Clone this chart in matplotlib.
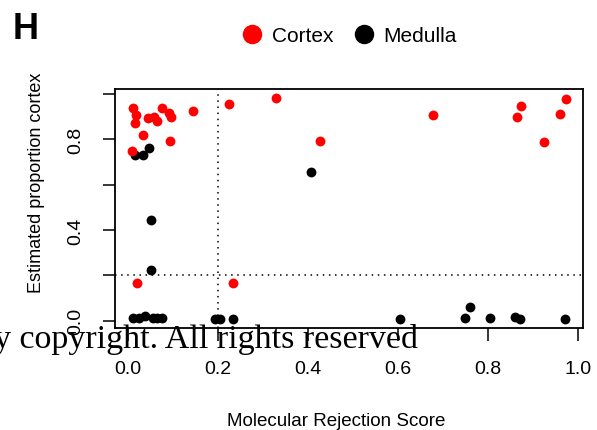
import matplotlib
matplotlib.use("Agg")
import matplotlib.pyplot as plt
from matplotlib.lines import Line2D

plt.rcParams["font.family"] = ["Liberation Sans", "DejaVu Sans"]

# values
cortex_x = [0.012, 0.018, 0.016, 0.034, 0.008, 0.045, 0.058, 0.065, 0.076, 0.092, 0.096, 0.093,
            0.145, 0.225, 0.329, 0.019, 0.234, 0.426, 0.677, 0.873, 0.864, 0.924, 0.960, 0.973]
cortex_y = [0.937, 0.907, 0.871, 0.819, 0.747, 0.893, 0.897, 0.880, 0.940, 0.915, 0.897, 0.791,
            0.925, 0.955, 0.982, 0.166, 0.166, 0.793, 0.907, 0.947, 0.897, 0.788, 0.912, 0.978]

medulla_x = [0.016, 0.033, 0.047, 0.050, 0.050, 0.012, 0.025, 0.038, 0.056, 0.065, 0.075,
             0.193, 0.204, 0.234, 0.406, 0.604, 0.749, 0.760, 0.804, 0.860, 0.871, 0.971]
medulla_y = [0.731, 0.731, 0.762, 0.444, 0.225, 0.012, 0.012, 0.019, 0.012, 0.012, 0.012,
             0.007, 0.007, 0.007, 0.655, 0.007, 0.011, 0.060, 0.011, 0.016, 0.007, 0.007]

x_ticks = [0.0, 0.2, 0.4, 0.6, 0.8, 1.0]
x_ticklabels = ["0.0", "0.2", "0.4", "0.6", "0.8", "1.0"]
y_ticks = [0.0, 0.2, 0.4, 0.6, 0.8, 1.0]
y_ticklabels = ["0.0", "", "0.4", "", "0.8", ""]
threshold = 0.2

fig = plt.figure(figsize=(5.97, 4.31), dpi=100)
ax = fig.add_axes([115 / 597, 1 - 329.3 / 431, 468 / 597, 239.3 / 431])

ax.scatter(medulla_x, medulla_y, s=50, color="black", linewidths=0, zorder=3)
ax.scatter(cortex_x, cortex_y, s=50, color="red", linewidths=0, zorder=4)

ax.axvline(threshold, color="black", lw=1.1, linestyle=(0, (1, 3)), zorder=2)
ax.axhline(threshold, color="black", lw=1.1, linestyle=(0, (1, 3)), zorder=2)

ax.set_xlim(-0.0289, 1.011)
ax.set_ylim(-0.0335, 1.022)
ax.set_xticks(x_ticks)
ax.set_xticklabels(x_ticklabels)
ax.set_yticks(y_ticks)
ax.set_yticklabels(y_ticklabels, rotation=90, va="center")

for sp in ax.spines.values():
    sp.set_linewidth(1.3)
ax.tick_params(axis="both", length=9, width=1.1, labelsize=14)
ax.tick_params(axis="x", pad=14)
ax.tick_params(axis="y", pad=13)

fig.text(336 / 597, 1 - 426 / 431, "Molecular Rejection Score", ha="center",
         va="baseline", fontsize=13.5)
fig.text(37 / 597, 1 - 183 / 431, "Estimated proportion cortex", rotation=90,
         ha="center", va="center", fontsize=13)

fig.text(13 / 597, 1 - 39 / 431, "H", fontsize=26, fontweight="bold", va="baseline")

handles = [Line2D([], [], marker="o", linestyle="", color="red", markersize=13),
           Line2D([], [], marker="o", linestyle="", color="black", markersize=13)]
fig.legend(handles, ["Cortex", "Medulla"], loc="center", ncol=2,
           bbox_to_anchor=(350 / 597, 1 - 37 / 431), frameon=False, fontsize=15,
           handlelength=0.9, handletextpad=0.5, columnspacing=1.0)

# watermark text that lies over the figure
fig.text(418 / 597, 1 - 348 / 431, "y copyright. All rights reserved", ha="right",
         va="baseline", fontsize=24.5, family="Liberation Serif", zorder=10)

fig.savefig("out.png", dpi=100)
